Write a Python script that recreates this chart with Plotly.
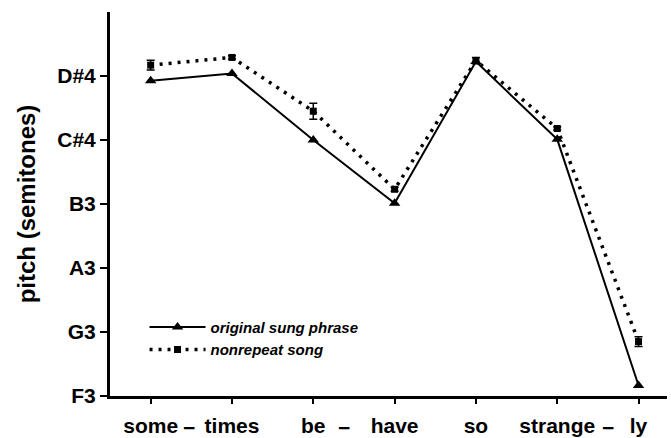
import plotly.graph_objects as go

syllables = ["some", "times", "be", "have", "so", "strange", "ly"]
x_idx = list(range(len(syllables)))
pitch_labels = ["F3", "G3", "A3", "B3", "C#4", "D#4"]
pitch_vals = [0, 2, 4, 6, 8, 10]  # semitones above F3

original = [9.85, 10.08, 8.0, 6.02, 10.45, 8.02, 0.33]
nonrepeat = [10.34, 10.58, 8.9, 6.46, 10.48, 8.36, 1.70]
nonrepeat_err = [0.15, 0.05, 0.25, 0.06, 0.1, 0.05, 0.15]

dash_positions = [0.47, 2.38, 5.63]

font_family = "Liberation Sans, Arial, sans-serif"

fig = go.Figure()
fig.add_trace(go.Scatter(
    x=x_idx, y=original, mode="lines+markers", name="original sung phrase",
    line=dict(color="black", width=2),
    marker=dict(symbol="triangle-up", size=10, color="black"),
))
fig.add_trace(go.Scatter(
    x=x_idx, y=nonrepeat, mode="lines+markers", name="nonrepeat song",
    line=dict(color="black", width=3.5, dash="3px,6px"),
    marker=dict(symbol="square", size=7, color="black"),
    error_y=dict(type="data", array=nonrepeat_err, color="black", thickness=1.5, width=4),
))

for xp in dash_positions:
    fig.add_annotation(x=xp, y=0, xref="x", yref="paper", yanchor="middle", yshift=-31,
                       text="−", showarrow=False,
                       font=dict(family=font_family, size=21, color="black", weight="bold"))

fig.update_layout(
    width=671, height=438,
    margin=dict(l=110, r=4, t=12, b=42),
    paper_bgcolor="white", plot_bgcolor="white",
    font=dict(family=font_family, color="black"),
    showlegend=True,
    legend=dict(x=0.062, y=0.222, xanchor="left", yanchor="top",
                bgcolor="rgba(0,0,0,0)", itemwidth=56, tracegroupgap=0,
                font=dict(family=font_family, size=15, color="black", style="italic", weight="bold")),
    xaxis=dict(range=[-0.5, 6.35], tickmode="array", tickvals=x_idx, ticktext=syllables,
               showgrid=False, zeroline=False, showline=True, linecolor="black", linewidth=3,
               ticks="outside", ticklen=5, tickwidth=2, tickcolor="black", automargin=False,
               ticklabelstandoff=4,
               tickfont=dict(family=font_family, size=21, color="black", weight="bold")),
    yaxis=dict(range=[0, 12], tickmode="array", tickvals=pitch_vals, ticktext=pitch_labels,
               showgrid=False, zeroline=False, showline=True, linecolor="black", linewidth=3,
               ticks="outside", ticklen=7, tickwidth=2, tickcolor="black", automargin=False,
               tickfont=dict(family=font_family, size=21, color="black", weight="bold"),
               title=dict(text="pitch (semitones)", standoff=15,
                          font=dict(family=font_family, size=24, color="black", weight="bold"))),
)

fig.write_html("out.html", config={"displayModeBar": False},
               post_script="document.body.style.margin='0';")
